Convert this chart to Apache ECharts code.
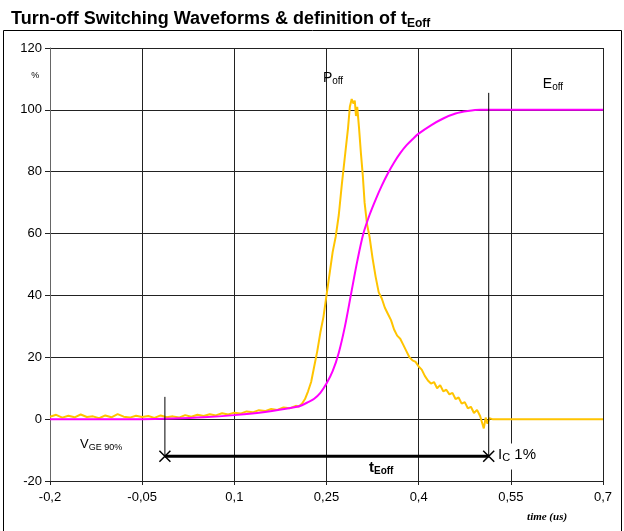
<!DOCTYPE html>
<html>
<head>
<meta charset="utf-8">
<script src="https://cdn.jsdelivr.net/npm/echarts@6/dist/echarts.min.js"></script>
<style>
  html, body { margin: 0; padding: 0; background: #fff; }
  #chart { width: 624px; height: 531px; }
</style>
</head>
<body>
<div id="chart"></div>
<script>
// tick labels (decimal comma, as in the source)
const xTickLabels = ['-0,2', '-0,05', '0,1', '0,25', '0,4', '0,55', '0,7'];

// P_off (yellow), noise included
const poffTime = [
  -0.20, -0.19, -0.18, -0.17, -0.16, -0.15, -0.14, -0.13, -0.12, -0.11,
  -0.10, -0.09, -0.08, -0.07, -0.06, -0.05, -0.04, -0.03, -0.02, -0.01,
  0.00, 0.01, 0.02, 0.03, 0.04, 0.05, 0.06, 0.07, 0.08, 0.09,
  0.10, 0.11, 0.12, 0.13, 0.14, 0.15, 0.16, 0.17, 0.18, 0.19,
  0.20, 0.205, 0.21, 0.215, 0.22, 0.225, 0.23, 0.235, 0.24, 0.245,
  0.25, 0.255, 0.26, 0.265, 0.27, 0.275, 0.28, 0.285, 0.288, 0.291,
  0.294, 0.296, 0.298, 0.300, 0.303, 0.306, 0.309, 0.312, 0.316, 0.32,
  0.325, 0.33, 0.335, 0.34, 0.345, 0.35, 0.355, 0.36, 0.365, 0.37,
  0.375, 0.38, 0.385, 0.39, 0.395, 0.40, 0.405, 0.41, 0.415, 0.42,
  0.425, 0.43, 0.435, 0.44, 0.445, 0.45, 0.455, 0.46, 0.465, 0.47,
  0.475, 0.48, 0.485, 0.49, 0.495, 0.50, 0.503, 0.506, 0.509, 0.512,
  0.515, 0.52, 0.70
];
const poffValue = [
  0.8, 1.4, 0.5, 1.1, 0.6, 1.5, 0.7, 0.9, 0.3, 1.2,
  0.6, 1.6, 0.8, 0.5, 1.1, 0.7, 1.0, 0.4, 1.2, 0.6,
  0.9, 0.5, 1.3, 0.8, 1.4, 1.0, 1.6, 1.2, 1.9, 1.5,
  2.1, 1.8, 2.5, 2.2, 2.9, 2.6, 3.3, 3.0, 3.8, 3.5,
  4.3, 4.1, 5.0, 6.5, 9.0, 12, 17, 22, 28, 33,
  40, 47, 54, 59, 66, 76, 85, 94, 101, 103.5,
  102, 103, 98, 101, 94, 86, 79, 70, 63, 59,
  52, 46, 41, 39, 36, 34, 32, 29, 27, 26,
  24, 22, 20, 19, 18.5, 17, 16, 14, 12.5, 11.5,
  12, 10, 11, 9, 9.5, 8, 8.5, 6.5, 7, 5,
  5.5, 3.5, 4, 2, 3, 1, -1, -3, 0.5, -1.5,
  0.3, 0, 0
];

// E_off (magenta), normalised energy
const eoffTime = [
  -0.20, -0.05, 0.00, 0.05, 0.10, 0.15, 0.20, 0.21, 0.22, 0.23,
  0.24, 0.25, 0.26, 0.27, 0.28, 0.29, 0.30, 0.31, 0.32, 0.33,
  0.34, 0.35, 0.36, 0.37, 0.38, 0.39, 0.40, 0.42, 0.44, 0.46,
  0.48, 0.50, 0.70
];
const eoffValue = [
  0, 0, 0.2, 0.6, 1.3, 2.3, 3.9, 4.5, 5.5, 6.6,
  8.5, 11.5, 15.5, 21.5, 30, 40.5, 51, 60, 66, 71,
  75.5, 79.5, 83, 86, 88.5, 90.5, 92.3, 95, 97.2, 98.8,
  99.6, 100, 100
];

// t_Eoff definition: V_GE 90% -> I_C 1%
const tEoffSpan = [-0.013, 0.514];
const tEoffLevel = -12;
const vgeMarkerY = [7.2, -12];
const icMarkerY = [105.5, -12];

const BLACK = '#000';
const FONT = 'Arial, "Liberation Sans", sans-serif';

const chart = echarts.init(document.getElementById('chart'));

const crossPath = 'path://M0,0L10,10M10,0L0,10';

const option = {
  animation: false,
  backgroundColor: '#fff',
  title: {
    left: 6,
    top: 3,
    text: '{a|Turn-off Switching Waveforms & definition of t}{b|Eoff}',
    textStyle: {
      rich: {
        a: { fontFamily: FONT, fontSize: 18, fontWeight: 'bold', color: BLACK, lineHeight: 22 },
        b: { fontFamily: FONT, fontSize: 12, fontWeight: 'bold', color: BLACK, lineHeight: 13, verticalAlign: 'bottom' }
      }
    }
  },
  grid: { left: 50, right: 21, top: 48, bottom: 50 },
  xAxis: {
    type: 'value',
    min: -0.2,
    max: 0.7,
    interval: 0.15,
    axisLine: { show: true, onZero: false, lineStyle: { color: '#222', width: 1 } },
    axisTick: { show: true, length: 4, lineStyle: { color: '#222' } },
    axisLabel: {
      color: BLACK, fontFamily: FONT, fontSize: 13, margin: 10,
      formatter: (v, i) => xTickLabels[i] !== undefined ? xTickLabels[i] : String(v).replace('.', ',')
    },
    splitLine: { show: true, lineStyle: { color: '#222', width: 1 } }
  },
  yAxis: {
    type: 'value',
    min: -20,
    max: 120,
    interval: 20,
    axisLine: { show: true, onZero: false, lineStyle: { color: '#666', width: 1 } },
    axisTick: { show: true, length: 5, lineStyle: { color: '#222' } },
    axisLabel: { color: BLACK, fontFamily: FONT, fontSize: 13, margin: 8 },
    splitLine: { show: true, lineStyle: { color: '#222', width: 1 } }
  },
  series: [
    {
      name: 'Poff',
      type: 'line',
      data: poffTime.map((t, i) => [t, poffValue[i]]),
      showSymbol: false,
      lineStyle: { color: '#FFC400', width: 2 },
      z: 3
    },
    {
      name: 'Eoff',
      type: 'line',
      data: eoffTime.map((t, i) => [t, eoffValue[i]]),
      showSymbol: false,
      smooth: 0.3,
      lineStyle: { color: '#FF00FF', width: 2 },
      z: 4
    },
    {
      name: 'VGE marker',
      type: 'line',
      data: vgeMarkerY.map(v => [tEoffSpan[0], v]),
      showSymbol: false,
      lineStyle: { color: BLACK, width: 1 },
      z: 5
    },
    {
      name: 'IC marker',
      type: 'line',
      data: icMarkerY.map(v => [tEoffSpan[1], v]),
      showSymbol: false,
      lineStyle: { color: BLACK, width: 1 },
      z: 5
    },
    {
      name: 'tEoff',
      type: 'line',
      data: tEoffSpan.map(t => [t, tEoffLevel]),
      symbol: crossPath,
      symbolSize: 11,
      showAllSymbol: true,
      itemStyle: { color: 'none', borderColor: BLACK, borderWidth: 1.5 },
      lineStyle: { color: BLACK, width: 3 },
      z: 6
    }
  ]
};

chart.setOption(option);

// annotation texts, placed in data coordinates through the chart's own scales
const annotations = [
  { at: [0.2606, 110.1], text: '{m|P}{s|off}', align: 'center' },
  { at: [0.6186, 108.2], text: '{m|E}{s|off}', align: 'center' },
  { at: [-0.151, -8.2], text: '{v|V}{vs|GE 90%}', align: 'left' },
  { at: [0.339, -15.7], text: '{b|t}{bs|Eoff}', align: 'center' },
  { at: [0.526, -12.1], text: '{i|I}{is|C}{i| 1%}', align: 'left', box: true },
  { at: [-0.224, 111], text: '{p|%}', align: 'center' },
  { at: [0.609, -31.7], text: '{t|time (us)}', align: 'center' }
];

const rich = {
  m: { fontFamily: FONT, fontSize: 14, color: BLACK, lineHeight: 16 },
  s: { fontFamily: FONT, fontSize: 10, color: BLACK, lineHeight: 10, verticalAlign: 'bottom' },
  v: { fontFamily: FONT, fontSize: 13, color: BLACK, lineHeight: 16 },
  vs: { fontFamily: FONT, fontSize: 9, color: BLACK, lineHeight: 9, verticalAlign: 'bottom' },
  b: { fontFamily: FONT, fontSize: 15, fontWeight: 'bold', color: BLACK, lineHeight: 17 },
  bs: { fontFamily: FONT, fontSize: 10, fontWeight: 'bold', color: BLACK, lineHeight: 10, verticalAlign: 'bottom' },
  i: { fontFamily: FONT, fontSize: 15, color: BLACK, lineHeight: 18 },
  is: { fontFamily: FONT, fontSize: 11, color: BLACK, lineHeight: 11, verticalAlign: 'bottom' },
  p: { fontFamily: FONT, fontSize: 9, color: BLACK },
  t: { fontFamily: '"Liberation Serif", "DejaVu Serif", serif', fontSize: 11, fontStyle: 'italic', fontWeight: 'bold', color: BLACK }
};

const graphics = annotations.map(a => {
  const [px, py] = chart.convertToPixel({ gridIndex: 0 }, a.at);
  return {
    type: 'text',
    x: px,
    y: py,
    z: 100,
    style: {
      text: a.text,
      rich: rich,
      align: a.align,
      verticalAlign: 'middle',
      backgroundColor: a.box ? '#fff' : undefined,
      padding: a.box ? [2, 4, 6, 2] : 0
    }
  };
});

// outer frame of the chart area
graphics.push({
  type: 'rect',
  shape: { x: 3.5, y: 30.5, width: 618, height: 510 },
  style: { fill: 'none', stroke: BLACK, lineWidth: 1 },
  z: 0,
  silent: true
});

chart.setOption({ graphic: graphics });
</script>
</body>
</html>
